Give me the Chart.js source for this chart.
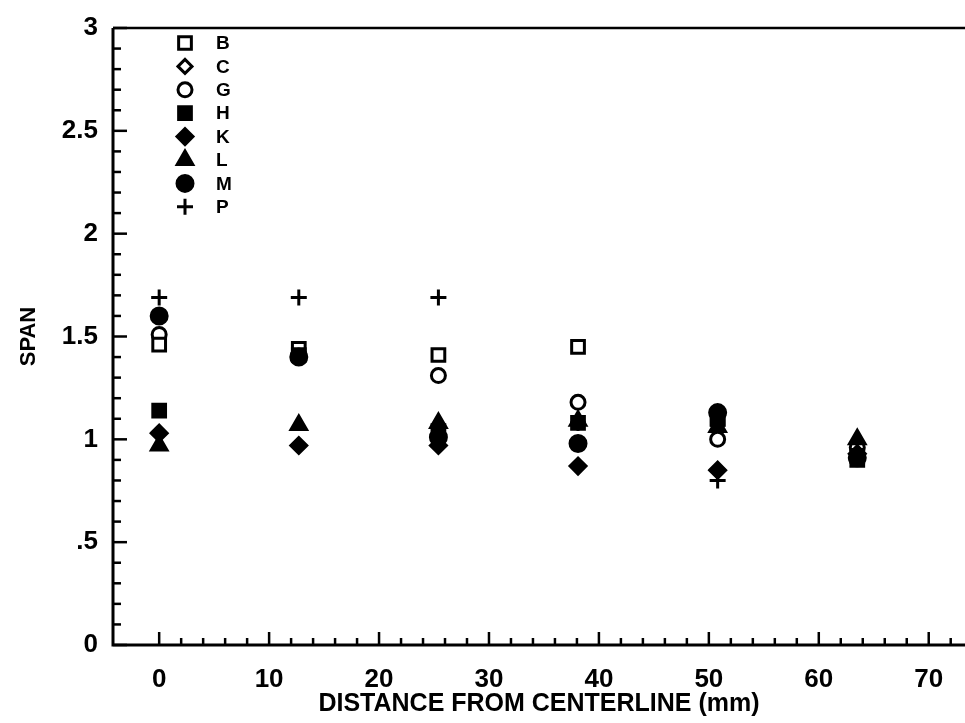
<!DOCTYPE html>
<html>
<head>
<meta charset="utf-8">
<script src="https://cdn.jsdelivr.net/npm/chart.js@4/dist/chart.umd.min.js"></script>
<style>
  body { margin: 0; background: #fff; }
  canvas { display: block; }
</style>
</head>
<body>
<canvas id="spanChart" width="965" height="723"></canvas>
<script>
// Data (x in mm from centreline)
const distances = [0, 12.7, 25.4, 38.1, 50.8, 63.5];
const seriesB = [1.46, 1.44, 1.41, 1.45, 1.10, 0.92];
const seriesC = [1.03, 0.97, 0.97, 0.87, 0.85, 0.93];
const seriesG = [1.51, 1.41, 1.31, 1.18, 1.00, 0.96];
const seriesH = [1.14, 1.41, 1.04, 1.08, 1.10, 0.90];
const seriesK = [1.03, 0.97, 0.97, 0.87, 0.85, 0.93];
const seriesL = [0.97, 1.07, 1.08, 1.09, 1.06, 1.00];
const seriesM = [1.60, 1.40, 1.01, 0.98, 1.13, 0.91];
const seriesP = [1.69, 1.69, 1.69, 1.08, 0.80, 0.91];

const xTickValues = [0, 10, 20, 30, 40, 50, 60, 70];
const yTickValues = [0, 0.5, 1, 1.5, 2, 2.5, 3];

const FONT = '"Liberation Sans", Arial, sans-serif';

function pts(vals) {
    return vals.map((v, i) => ({ x: distances[i], y: v }));
}

// style per series: [label, values, pointStyle, radius, filled]
const seriesDefs = [
    ['B', seriesB, 'rect', 9, false],
    ['C', seriesC, 'rectRot', 7, false],
    ['G', seriesG, 'circle', 7, false],
    ['H', seriesH, 'rect', 9, true],
    ['K', seriesK, 'rectRot', 8, true],
    ['L', seriesL, 'triangle', 9, true],
    ['M', seriesM, 'circle', 8, true],
    ['P', seriesP, 'cross', 8, false]
];

const datasets = seriesDefs.map(([label, vals, style, r, filled]) => ({
    label: label,
    data: pts(vals),
    pointStyle: style,
    pointRadius: r,
    pointHoverRadius: r,
    pointBorderWidth: 3,
    pointBorderColor: '#000',
    pointBackgroundColor: filled ? '#000' : '#fff',
    showLine: false,
    order: filled ? 1 : 2
}));

// frame, inward ticks and the in-plot legend
const framePlugin = {
    id: 'frame',
    beforeDatasetsDraw(chart) {
        const { ctx, chartArea: a, scales } = chart;
        const xs = scales.x, ys = scales.y;
        ctx.save();
        ctx.strokeStyle = '#000';
        ctx.lineCap = 'butt';
        ctx.lineWidth = 3;
        ctx.beginPath();
        ctx.moveTo(a.left, a.top);
        ctx.lineTo(a.left, a.bottom);
        ctx.lineTo(a.right, a.bottom);
        ctx.stroke();
        ctx.lineWidth = 2.5;
        ctx.beginPath();
        ctx.moveTo(a.left, a.top);
        ctx.lineTo(a.right, a.top);
        ctx.stroke();

        ctx.lineWidth = 2.5;
        for (let i = 0; i <= 30; i++) {
            const v = i / 10;
            const py = ys.getPixelForValue(v);
            const len = (i % 5 === 0) ? 14 : 8;
            ctx.beginPath();
            ctx.moveTo(a.left, py);
            ctx.lineTo(a.left + len, py);
            ctx.stroke();
        }
        for (let v = 0; v <= 72; v += 2) {
            const px = xs.getPixelForValue(v);
            const len = (v % 10 === 0) ? 13 : 7;
            ctx.beginPath();
            ctx.moveTo(px, a.bottom);
            ctx.lineTo(px, a.bottom - len);
            ctx.stroke();
        }
        ctx.restore();
    },
    afterDraw(chart) {
        const { ctx } = chart;
        ctx.save();
        ctx.font = 'bold 19px ' + FONT;
        ctx.textBaseline = 'middle';
        ctx.fillStyle = '#000';
        chart.data.datasets.forEach((ds, i) => {
            const cx = 185, cy = 43 + i * 23.4;
            ctx.strokeStyle = '#000';
            ctx.lineWidth = 3;
            ctx.fillStyle = ds.pointBackgroundColor;
            Chart.helpers.drawPoint(ctx, {
                pointStyle: ds.pointStyle,
                radius: ds.pointRadius,
                borderWidth: 3
            }, cx, cy);
            ctx.fillStyle = '#000';
            ctx.fillText(ds.label, 216, cy + 1);
        });
        ctx.restore();
    }
};

const ctx = document.getElementById('spanChart').getContext('2d');
const spanChart = new Chart(ctx, {
    type: 'scatter',
    data: { datasets: datasets },
    options: {
        responsive: false,
        devicePixelRatio: 1,
        animation: false,
        clip: false,
        layout: { autoPadding: false, padding: { top: 22, right: 0, left: 0, bottom: 0 } },
        plugins: {
            legend: { display: false },
            tooltip: { enabled: false }
        },
        scales: {
            x: {
                type: 'linear',
                min: -4.2,
                max: 73.3,
                grid: { display: false, drawTicks: false },
                border: { display: false },
                afterBuildTicks: (s) => { s.ticks = xTickValues.map(v => ({ value: v })); },
                afterFit: (s) => { s.height = 78; },
                ticks: {
                    padding: 19,
                    color: '#000',
                    font: { family: FONT, size: 26, weight: 'bold' },
                    maxRotation: 0,
                    autoSkip: false
                },
                title: {
                    display: true,
                    text: 'DISTANCE FROM CENTERLINE (mm)',
                    color: '#000',
                    font: { family: FONT, size: 25, weight: 'bold' },
                    padding: { top: 0, bottom: 4 }
                }
            },
            y: {
                type: 'linear',
                min: 0,
                max: 3,
                grid: { display: false, drawTicks: false },
                border: { display: false },
                afterBuildTicks: (s) => { s.ticks = yTickValues.map(v => ({ value: v })); },
                afterFit: (s) => { s.width = 113; },
                ticks: {
                    padding: 15,
                    color: '#000',
                    font: { family: FONT, size: 26, weight: 'bold', lineHeight: 1 },
                    autoSkip: false,
                    callback: (v) => (v === 0.5 ? '.5' : String(v))
                },
                title: {
                    display: true,
                    text: 'SPAN',
                    color: '#000',
                    font: { family: FONT, size: 22, weight: 'bold' },
                    padding: { top: 16, bottom: 0 }
                }
            }
        }
    },
    plugins: [framePlugin]
});
</script>
</body>
</html>
